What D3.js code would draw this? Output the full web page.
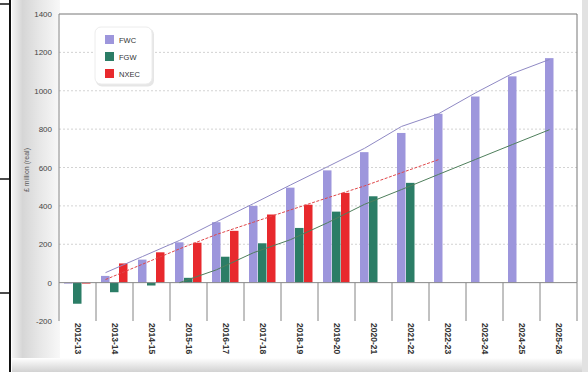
<!DOCTYPE html>
<html>
<head>
<meta charset="utf-8">
<script src="https://cdn.jsdelivr.net/npm/d3@7/dist/d3.min.js"></script>
<style>
html, body { margin: 0; padding: 0; background: #fff; }
svg { display: block; font-family: "Liberation Sans", Arial, sans-serif; }
</style>
</head>
<body>
<svg id="chart" width="588" height="372"></svg>
<script>
const categories = ["2012-13", "2013-14", "2014-15", "2015-16", "2016-17", "2017-18", "2018-19",
    "2019-20", "2020-21", "2021-22", "2022-23", "2023-24", "2024-25", "2025-26"];
const seriesNames = ["FWC", "FGW", "NXEC"];
const fwc = [-5, 35, 120, 210, 315, 400, 495, 585, 680, 780, 880, 970, 1075, 1170];
const fgw = [-110, -50, -15, 25, 135, 205, 285, 370, 450, 520, null, null, null, null];
const nxec = [-5, 100, 158, 208, 270, 355, 406, 468, null, null, null, null, null, null];
// trend lines drawn over the bars
const fwcTrend = [null, 52, 136, 220, 317, 412, 509, 604, 700, 814, 880, 989, 1090, 1163];
const nxecTrend = [null, 16, 96, 176, 251, 315, 379, 442, 504, 573, 641, null, null, null];
const fgwTrend = [null, null, null, 0, 67, 156, 224, 312, 408, 485, 564, 642, 720, 797];
const yTicks = [-200, 0, 200, 400, 600, 800, 1000, 1200, 1400];

const colors = { FWC: "#9d96dc", FGW: "#2b7d66", NXEC: "#e8292d" };
const trendColors = { FWC: "#8f89c4", FGW: "#4f7f5c", NXEC: "#e0474a" };

const svg = d3.select("#chart");
const defs = svg.append("defs");

// paper shading of the scan
const leftGrad = defs.append("linearGradient").attr("id", "leftShade");
leftGrad.append("stop").attr("offset", "0%").attr("stop-color", "#f3f3f3");
leftGrad.append("stop").attr("offset", "22%").attr("stop-color", "#d6d6d6");
leftGrad.append("stop").attr("offset", "60%").attr("stop-color", "#e8e8e8");
leftGrad.append("stop").attr("offset", "100%").attr("stop-color", "#f8f8f8");
const bottomGrad = defs.append("linearGradient").attr("id", "bottomShade")
    .attr("x1", 0).attr("y1", 0).attr("x2", 0).attr("y2", 1);
bottomGrad.append("stop").attr("offset", "0%").attr("stop-color", "#ffffff");
bottomGrad.append("stop").attr("offset", "100%").attr("stop-color", "#d2d2d2");

svg.append("rect").attr("x", 12).attr("y", 0).attr("width", 48).attr("height", 372).attr("fill", "url(#leftShade)");
svg.append("rect").attr("x", 12).attr("y", 358).attr("width", 576).attr("height", 14).attr("fill", "url(#bottomShade)");
svg.append("rect").attr("x", 582).attr("y", 0).attr("width", 6).attr("height", 372).attr("fill", "#e2e2e2");

// black frame lines at the left edge of the scan
svg.append("line").attr("x1", 10).attr("x2", 10).attr("y1", 0).attr("y2", 372).attr("stroke", "#111").attr("stroke-width", 2);
for (const y of [4, 179, 293]) {
    svg.append("line").attr("x1", 0).attr("x2", 10).attr("y1", y).attr("y2", y).attr("stroke", "#111").attr("stroke-width", 1.5);
}

const x = d3.scaleBand().domain(categories).range([59, 577]);
const xSub = d3.scaleBand().domain(seriesNames).range([5, 32]).padding(0);
const y = d3.scaleLinear().domain([-200, 1400]).range([321, 14]);

// gridlines
svg.append("g")
    .selectAll("line")
    .data(yTicks.filter(t => t > 0 && t < 1400))
    .join("line")
    .attr("x1", x.range()[0])
    .attr("x2", x.range()[1])
    .attr("y1", d => y(d))
    .attr("y2", d => y(d))
    .attr("stroke", "#c8c8c8")
    .attr("stroke-width", 0.8)
    .attr("stroke-dasharray", "2,2");

// plot frame: top and right border
svg.append("line").attr("x1", x.range()[0]).attr("x2", x.range()[1])
    .attr("y1", y(1400)).attr("y2", y(1400)).attr("stroke", "#777").attr("stroke-width", 1);
svg.append("line").attr("x1", x.range()[1]).attr("x2", x.range()[1])
    .attr("y1", y(1400)).attr("y2", y(0)).attr("stroke", "#777").attr("stroke-width", 1);

// category separators below zero
svg.append("g")
    .selectAll("line")
    .data(categories.slice(1).concat(["end"]))
    .join("line")
    .attr("x1", (d, i) => x.range()[0] + x.step() * (i + 1))
    .attr("x2", (d, i) => x.range()[0] + x.step() * (i + 1))
    .attr("y1", y(0))
    .attr("y2", y(-200))
    .attr("stroke", "#777")
    .attr("stroke-width", 0.9);

// bars
const rows = categories.map((c, i) => ({ cat: c, FWC: fwc[i], FGW: fgw[i], NXEC: nxec[i] }));
svg.append("g")
    .selectAll("g")
    .data(rows)
    .join("g")
    .attr("transform", d => `translate(${x(d.cat)},0)`)
    .selectAll("rect")
    .data(d => seriesNames.filter(s => d[s] !== null).map(s => ({ key: s, value: d[s] })))
    .join("rect")
    .attr("x", d => xSub(d.key))
    .attr("width", xSub.bandwidth() - 0.5)
    .attr("y", d => y(Math.max(0, d.value)))
    .attr("height", d => Math.abs(y(d.value) - y(0)))
    .attr("fill", d => colors[d.key]);

// zero line and y axis line
svg.append("line").attr("x1", x.range()[0]).attr("x2", x.range()[1])
    .attr("y1", y(0)).attr("y2", y(0)).attr("stroke", "#888").attr("stroke-width", 1);
svg.append("line").attr("x1", x.range()[0]).attr("x2", x.range()[0])
    .attr("y1", y(1400)).attr("y2", y(-200)).attr("stroke", "#888").attr("stroke-width", 1);

// trend lines
const trends = [
    { key: "FWC", values: fwcTrend, dash: null },
    { key: "NXEC", values: nxecTrend, dash: "3,1.5" },
    { key: "FGW", values: fgwTrend, dash: null },
];
const line = d3.line()
    .defined(d => d.v !== null)
    .x(d => x(d.cat) + xSub("FWC") + xSub.bandwidth() / 2)
    .y(d => y(d.v));
svg.append("g")
    .selectAll("path")
    .data(trends)
    .join("path")
    .attr("d", t => line(categories.map((c, i) => ({ cat: c, v: t.values[i] }))))
    .attr("fill", "none")
    .attr("stroke", t => trendColors[t.key])
    .attr("stroke-width", 1)
    .attr("stroke-dasharray", t => t.dash);

// y tick labels
svg.append("g")
    .selectAll("text")
    .data(yTicks)
    .join("text")
    .attr("x", 52)
    .attr("y", d => y(d) + 3)
    .attr("text-anchor", "end")
    .attr("font-size", 8)
    .attr("fill", "#444")
    .text(d => d);

svg.append("text")
    .attr("transform", `translate(29,170) rotate(-90)`)
    .attr("text-anchor", "middle")
    .attr("font-size", 7)
    .attr("fill", "#555")
    .text("£ million (real)");

// x tick labels, rotated
svg.append("g")
    .selectAll("text")
    .data(categories)
    .join("text")
    .attr("transform", d => `translate(${x(d) + x.bandwidth() / 2 - 3},323) rotate(90)`)
    .attr("font-size", 8.5)
    .attr("font-weight", "bold")
    .attr("fill", "#333")
    .text(d => d);

// legend
const legend = svg.append("g").attr("transform", "translate(95,27)");
legend.append("rect").attr("x", 1).attr("y", 1.5).attr("width", 58).attr("height", 58).attr("rx", 6)
    .attr("fill", "#e6e6e6");
legend.append("rect").attr("width", 57).attr("height", 57).attr("rx", 6)
    .attr("fill", "#fff").attr("stroke", "#ececec");
const item = legend.selectAll("g")
    .data(seriesNames)
    .join("g")
    .attr("transform", (d, i) => `translate(10,${8 + i * 17})`);
item.append("rect").attr("width", 9).attr("height", 9).attr("fill", d => colors[d]);
item.append("text").attr("x", 14).attr("y", 8).attr("font-size", 7.5).attr("fill", "#333").text(d => d);
</script>
</body>
</html>
